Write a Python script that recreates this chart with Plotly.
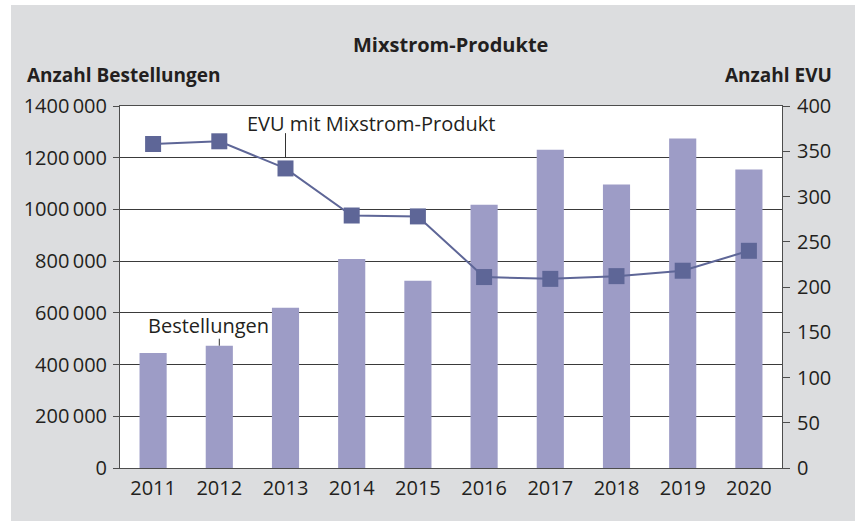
import plotly.graph_objects as go

years = ["2011", "2012", "2013", "2014", "2015", "2016", "2017", "2018", "2019", "2020"]
bestellungen = [445000, 473000, 620000, 808000, 724000, 1018000, 1231000, 1096000, 1274000, 1154000]
evu = [358, 361, 331, 279, 278, 211, 209, 212, 218, 240]

left_ticks = [0, 200000, 400000, 600000, 800000, 1000000, 1200000, 1400000]
left_ticktext = ["0", "200\u2009000", "400\u2009000", "600\u2009000", "800\u2009000",
                 "1000\u2009000", "1200\u2009000", "1400\u2009000"]
right_ticks = [0, 50, 100, 150, 200, 250, 300, 350, 400]

FONT = "Open Sans"
TXT = "#231f20"
BAR = "#9d9cc6"
LINE = "#5e6697"
AX = "#4d4d4d"
FS = 20

xpos = list(range(len(years)))

fig = go.Figure()
fig.add_trace(go.Bar(x=xpos, y=bestellungen, marker=dict(color=BAR, line=dict(width=0)),
                     width=0.41, name="Bestellungen", yaxis="y"))
fig.add_trace(go.Scatter(x=xpos, y=evu, mode="lines+markers", yaxis="y2",
                         line=dict(color=LINE, width=2),
                         marker=dict(symbol="square", size=16, color=LINE),
                         name="EVU mit Mixstrom-Produkt"))

W, H = 855, 522
L, R, T, B = 120, 73, 106, 54
pw, ph = W - L - R, H - T - B

def px(x):
    return (x - L) / pw

def py(y):
    return (H - B - y) / ph

shapes = [
    dict(type="rect", xref="paper", yref="paper", x0=px(-5), x1=px(11), y0=py(-5), y1=py(530),
         fillcolor="white", line=dict(width=0), layer="below"),
    dict(type="rect", xref="paper", yref="paper", x0=px(-5), x1=px(860), y0=py(-5), y1=py(5),
         fillcolor="white", line=dict(width=0), layer="below"),
    dict(type="rect", xref="paper", yref="paper", x0=px(-5), x1=px(860), y0=py(521), y1=py(530),
         fillcolor="white", line=dict(width=0), layer="below"),
    dict(type="line", xref="x", yref="y2", x0=xpos[2], x1=xpos[2], y0=343, y1=370,
         line=dict(color="#333333", width=1)),
    dict(type="line", xref="x", yref="y", x0=xpos[1], x1=xpos[1], y0=bestellungen[1], y1=500000,
         line=dict(color="#333333", width=1)),
]

annotations = [
    dict(text="<b>Mixstrom-Produkte</b>", xref="paper", yref="paper", x=px(450), y=py(44),
         xanchor="center", yanchor="middle", showarrow=False, font=dict(size=FS, color=TXT, family=FONT)),
    dict(text="<b>Anzahl Bestellungen</b>", xref="paper", yref="paper", x=px(25), y=py(75),
         xanchor="left", yanchor="middle", showarrow=False, font=dict(size=19, color=TXT, family=FONT)),
    dict(text="<b>Anzahl EVU</b>", xref="paper", yref="paper", x=px(834), y=py(75),
         xanchor="right", yanchor="middle", showarrow=False, font=dict(size=19, color=TXT, family=FONT)),
    dict(text="EVU mit Mixstrom-Produkt", xref="paper", yref="paper", x=px(371), y=py(123),
         xanchor="center", yanchor="middle", showarrow=False, font=dict(size=FS, color=TXT, family=FONT)),
    dict(text="Bestellungen", xref="paper", yref="paper", x=px(208), y=py(325),
         xanchor="center", yanchor="middle", showarrow=False, font=dict(size=FS, color=TXT, family=FONT)),
]

fig.update_layout(
    width=W, height=H,
    margin=dict(l=L, r=R, t=T, b=B, pad=0),
    paper_bgcolor="#dcdddf",
    plot_bgcolor="white",
    showlegend=False,
    font=dict(family=FONT, size=FS, color=TXT),
    xaxis=dict(range=[-0.5, len(years) - 0.5], tickvals=xpos, ticktext=years,
               showline=True, mirror=True, linecolor=AX, linewidth=1,
               ticks="", showgrid=False, zeroline=False, ticklabelstandoff=2,
               tickfont=dict(size=FS, color=TXT, family=FONT)),
    yaxis=dict(range=[0, 1400000], tickvals=left_ticks, ticktext=left_ticktext,
               showline=True, linecolor=AX, linewidth=1, ticks="outside", ticklen=6,
               tickcolor=AX, showgrid=True, gridcolor="#3a3a3a", gridwidth=1,
               zeroline=False, ticklabelstandoff=2,
               tickfont=dict(size=FS, color=TXT, family=FONT)),
    yaxis2=dict(range=[0, 400], tickvals=right_ticks, overlaying="y", side="right",
                showline=True, linecolor=AX, linewidth=1, ticks="outside", ticklen=7,
                tickcolor=AX, showgrid=False, zeroline=False, ticklabelstandoff=3,
                tickfont=dict(size=FS, color=TXT, family=FONT)),
    shapes=shapes,
    annotations=annotations,
)

fig.write_html("out.html", config={"displayModeBar": False},
               post_script="document.body.style.margin='0';document.body.style.overflow='hidden';")
